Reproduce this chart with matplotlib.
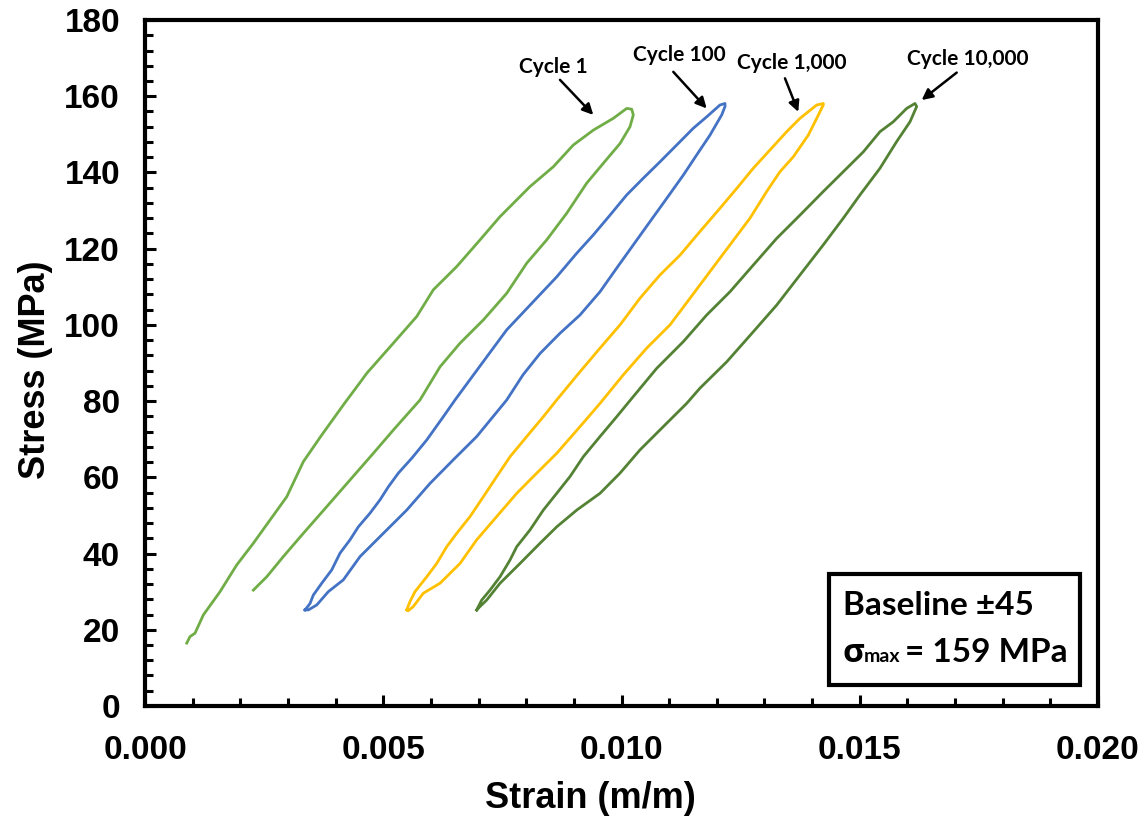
#!/usr/bin/env python

"""
Hysteresis loops (stress vs strain) for the baseline +/-45 laminate
at cycles 1, 100, 1,000 and 10,000.
"""

import matplotlib
matplotlib.use("Agg")
import matplotlib.pyplot as plt
from matplotlib.patches import Rectangle
from matplotlib.ticker import MultipleLocator, FormatStrFormatter


# cycle 1 (open loop)
c1_strain = [0.000875, 0.000944, 0.001049, 0.001224, 0.001574, 0.001924, 0.002273, 0.002623,
             0.002974, 0.003322, 0.003708, 0.004162, 0.004548, 0.004653, 0.005211, 0.005702,
             0.006050, 0.006541, 0.007030, 0.007450, 0.008080, 0.008569, 0.008988, 0.009408,
             0.009828, 0.010109, 0.010214, 0.010248,
             0.010178, 0.009969, 0.009618, 0.009270, 0.008850, 0.008430, 0.008011, 0.007591,
             0.007100, 0.006611, 0.006191, 0.005771, 0.005211, 0.004791, 0.004302, 0.003813,
             0.003322, 0.002902, 0.002554, 0.002273]
c1_stress = [16.5, 18.2, 19.1, 23.9, 30.0, 37.0, 42.7, 48.8, 54.9, 64.1, 71.1, 79.0, 85.5, 87.3,
             95.2, 102.2, 109.2, 115.3, 122.3, 128.4, 136.3, 141.5, 147.2, 151.1, 154.2, 156.8,
             156.6, 155.1,
             152.0, 147.6, 142.4, 137.2, 129.3, 122.3, 116.2, 108.3, 101.3, 95.2, 89.0, 80.3,
             72.4, 66.3, 59.3, 52.3, 45.3, 39.2, 33.9, 30.4]

# cycle 100
c100_strain = [0.003358, 0.003463, 0.003532, 0.003708, 0.003918, 0.004092, 0.004302, 0.004476,
               0.004722, 0.004932, 0.005106, 0.005316, 0.005597, 0.005912, 0.006260, 0.006506,
               0.007030, 0.007591, 0.008640, 0.009060, 0.009408, 0.009759, 0.010109, 0.010458,
               0.010808, 0.011158, 0.011507, 0.011788, 0.012067, 0.012172,
               0.012172, 0.012103, 0.011857, 0.011578, 0.011297, 0.010949, 0.010598, 0.010248,
               0.009899, 0.009549, 0.009129, 0.008709, 0.008290, 0.007933, 0.007591, 0.006961,
               0.006470, 0.005981, 0.005492, 0.005001, 0.004512, 0.004162, 0.003847, 0.003603,
               0.003427, 0.003358]
c100_stress = [25.2, 26.9, 29.1, 32.2, 35.7, 40.1, 43.6, 47.0, 50.6, 54.1, 57.5, 61.1, 65.0, 69.8,
               75.9, 80.3, 89.2, 98.7, 112.6, 118.8, 123.6, 128.8, 134.1, 138.5, 142.8, 147.2,
               151.6, 154.6, 157.7, 158.1,
               157.3, 155.1, 149.8, 144.6, 139.3, 133.2, 127.1, 121.0, 114.9, 108.7, 102.6, 97.8,
               92.5, 86.9, 80.3, 70.7, 64.6, 58.4, 51.4, 45.3, 39.2, 33.1, 30.0, 26.5, 25.2, 25.2]

# cycle 1,000
c1000_strain = [0.005492, 0.005561, 0.005666, 0.005912, 0.006122, 0.006332, 0.006541, 0.006821,
                0.007100, 0.007381, 0.007660, 0.008011, 0.008359, 0.008640, 0.009129, 0.009549,
                0.009969, 0.010388, 0.010808, 0.011228, 0.011647, 0.012067, 0.012418, 0.012766,
                0.013116, 0.013467, 0.013746, 0.014097, 0.014235,
                0.014235, 0.014097, 0.013920, 0.013606, 0.013326, 0.013047, 0.012697, 0.012277,
                0.011857, 0.011438, 0.011018, 0.010529, 0.010038, 0.009549, 0.009129, 0.008640,
                0.008149, 0.007801, 0.007381, 0.006961, 0.006611, 0.006191, 0.005841, 0.005631,
                0.005526, 0.005492]
c1000_stress = [25.2, 27.4, 30.0, 33.9, 37.4, 41.8, 45.3, 49.7, 54.9, 60.2, 65.4, 70.7, 75.9, 80.3,
                87.7, 93.9, 100.0, 107.0, 113.1, 118.3, 124.5, 130.6, 135.8, 141.1, 145.9, 150.7,
                154.2, 157.7, 158.1,
                157.7, 154.2, 149.8, 144.1, 140.2, 135.0, 128.0, 121.0, 114.0, 107.0, 100.0, 93.9,
                86.9, 79.4, 73.3, 66.3, 60.2, 55.8, 49.7, 43.6, 37.4, 32.2, 29.6, 26.1, 25.0, 25.2]

# cycle 10,000
c10000_strain = [0.006961, 0.007066, 0.007240, 0.007450, 0.007660, 0.007801, 0.008080, 0.008359,
                 0.008640, 0.008919, 0.009198, 0.009549, 0.009899, 0.010248, 0.010739, 0.011297,
                 0.011788, 0.012277, 0.012766, 0.013257, 0.013746, 0.014235, 0.014655, 0.015075,
                 0.015425, 0.015704, 0.015985, 0.016159,
                 0.016195, 0.016055, 0.015775, 0.015425, 0.015005, 0.014655, 0.014235, 0.013746,
                 0.013257, 0.012766, 0.012208, 0.011647, 0.011368, 0.010877, 0.010388, 0.009969,
                 0.009549, 0.009060, 0.008640, 0.008290, 0.007870, 0.007450, 0.007171, 0.007030,
                 0.006961]
c10000_stress = [25.2, 27.8, 30.4, 33.9, 38.3, 41.8, 46.2, 51.4, 55.8, 60.2, 65.4, 70.7, 75.9, 81.2,
                 88.6, 95.6, 102.6, 108.7, 115.7, 122.7, 128.8, 135.0, 140.2, 145.4, 150.7, 153.3,
                 156.8, 158.1,
                 157.3, 153.3, 148.1, 141.1, 134.1, 128.0, 121.0, 113.1, 105.2, 98.2, 90.3, 83.4,
                 79.4, 73.3, 67.2, 61.1, 55.8, 51.4, 47.0, 42.7, 37.4, 32.2, 27.8, 26.1, 25.2]

cycle_labels = ["Cycle 1", "Cycle 100", "Cycle 1,000", "Cycle 10,000"]
cycle_colors = ["#70AD47", "#4472C4", "#FFC000", "#548235"]

LABEL_FONT = "Liberation Sans"
NOTE_FONT = ["Lato", "DejaVu Sans"]


def setup_axes(ax):
    ax.set_xlim(0, 0.020)
    ax.set_ylim(0, 180)
    ax.xaxis.set_major_locator(MultipleLocator(0.005))
    ax.xaxis.set_minor_locator(MultipleLocator(0.001))
    ax.yaxis.set_major_locator(MultipleLocator(20))
    ax.yaxis.set_minor_locator(MultipleLocator(4))
    ax.xaxis.set_major_formatter(FormatStrFormatter("%.3f"))
    ax.tick_params(which="both", direction="in", width=2.2, top=False, right=False)
    ax.tick_params(which="major", length=8)
    ax.tick_params(which="minor", length=6)
    ax.tick_params(axis="x", pad=21)
    ax.tick_params(axis="y", pad=18)
    for lab in ax.get_xticklabels() + ax.get_yticklabels():
        lab.set_fontfamily(LABEL_FONT)
        lab.set_fontweight("bold")
        lab.set_fontsize(24)
    for sp in ax.spines.values():
        sp.set_linewidth(3)
    ax.set_xlabel("Strain (m/m)", fontsize=26, fontweight="bold", family=LABEL_FONT, labelpad=11)
    ax.set_ylabel("Stress (MPa)", fontsize=26, fontweight="bold", family=LABEL_FONT, labelpad=8)
    ax.xaxis.label.set_x(0.467)
    ax.yaxis.label.set_y(0.49)


def add_notes(ax):
    # (text position, arrow start, arrow tip) in data units
    notes = [((0.008563, 167.7), (0.008709, 164.3), (0.009408, 155.1)),
             ((0.011207, 170.8), (0.011087, 166.4), (0.011788, 156.8)),
             ((0.013578, 168.7), (0.013431, 164.7), (0.013710, 155.9)),
             ((0.017272, 169.8), (0.017035, 166.2), (0.016300, 159.0))]
    for label, (tpos, start, tip) in zip(cycle_labels, notes):
        ax.text(tpos[0], tpos[1], label, ha="center", va="center",
                fontsize=15, fontweight="bold", family=NOTE_FONT)
        ax.annotate("", xy=tip, xytext=start,
                    arrowprops=dict(arrowstyle="-|>", color="black", lw=1.8,
                                    mutation_scale=16, shrinkA=0, shrinkB=0))

    box = Rectangle((0.7177, 0.0306), 0.2633, 0.1618, transform=ax.transAxes,
                    facecolor="white", edgecolor="black", lw=3, zorder=5)
    ax.add_patch(box)
    ax.text(0.7324, 0.1327, "Baseline \u00b145", transform=ax.transAxes, ha="left",
            va="baseline", fontsize=24, fontweight="bold", family=NOTE_FONT, zorder=6)
    # sigma_max line built from three pieces so "max" sits small on the baseline
    ax.text(0.7324, 0.0641, "\u03c3", transform=ax.transAxes, ha="left",
            va="baseline", fontsize=24, fontweight="bold", family=["Open Sans", "DejaVu Sans"],
            zorder=6)
    ax.text(0.7545, 0.0641, "max", transform=ax.transAxes, ha="left",
            va="baseline", fontsize=14, fontweight="bold", family=NOTE_FONT, zorder=6)
    ax.text(0.7975, 0.0641, "= 159 MPa", transform=ax.transAxes, ha="left",
            va="baseline", fontsize=24, fontweight="bold", family=NOTE_FONT, zorder=6)


def main():
    fig = plt.figure(figsize=(11.43, 8.17), dpi=100)
    ax = fig.add_axes([0.1269, 0.1359, 0.8337, 0.8396])

    loops = [(c1_strain, c1_stress), (c100_strain, c100_stress),
             (c1000_strain, c1000_stress), (c10000_strain, c10000_stress)]
    for (x, y), color in zip(loops, cycle_colors):
        ax.plot(x, y, color=color, lw=2.0, solid_joinstyle="round")

    setup_axes(ax)
    add_notes(ax)
    fig.savefig("out.png", dpi=100)


if __name__ == "__main__":
    main()
